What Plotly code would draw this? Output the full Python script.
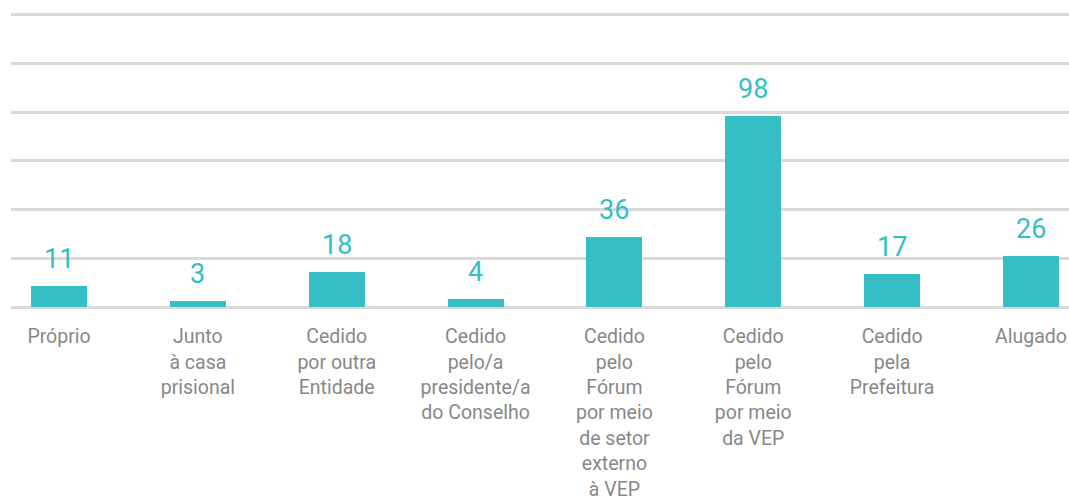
import plotly.graph_objects as go

categories = [
    "Próprio",
    "Junto<br>à casa<br>prisional",
    "Cedido<br>por outra<br>Entidade",
    "Cedido<br>pelo/a<br>presidente/a<br>do Conselho",
    "Cedido<br>pelo<br>Fórum<br>por meio<br>de setor<br>externo<br>à VEP",
    "Cedido<br>pelo<br>Fórum<br>por meio<br>da VEP",
    "Cedido<br>pela<br>Prefeitura",
    "Alugado",
]
values = [11, 3, 18, 4, 36, 98, 17, 26]
y_ticks = [0, 25, 50, 75, 100, 125, 150]

teal = "#35bec6"
grey_text = "#888888"
grid = "#d9d9d9"

xs = list(range(len(categories)))

fig = go.Figure()
fig.add_trace(go.Bar(
    x=xs, y=values, width=0.403,
    marker=dict(color=teal, line=dict(width=0)),
    hoverinfo="skip",
))

for x, v in zip(xs, values):
    fig.add_annotation(
        x=x, y=v, xref="x", yref="y", text=str(v),
        showarrow=False, yanchor="bottom", yshift=9,
        font=dict(family="Roboto", size=27, color=teal),
    )

fig.update_layout(
    width=1069, height=497,
    margin=dict(l=11, r=0, t=10.8, b=189.5, autoexpand=False),
    paper_bgcolor="white", plot_bgcolor="white",
    showlegend=False,
    bargap=0,
    font=dict(family="Roboto", color=grey_text),
)
fig.update_xaxes(
    range=[-0.3457, 7.274],
    tickmode="array", tickvals=xs, ticktext=categories,
    tickfont=dict(family="Roboto", size=19.5, color=grey_text),
    showgrid=False, zeroline=False, showline=False,
    ticks="outside", ticklen=12, tickcolor="rgba(0,0,0,0)",
    tickangle=0, automargin=False,
)
fig.update_yaxes(
    range=[0, 152], tickvals=y_ticks, showticklabels=False,
    showgrid=True, gridcolor=grid, gridwidth=2.5,
    zeroline=True, zerolinecolor=grid, zerolinewidth=2.5,
    showline=False, automargin=False,
)

fig.write_html(
    "out.html",
    config={"displayModeBar": False},
    post_script="document.body.style.margin='0';document.body.style.overflow='hidden';",
)
